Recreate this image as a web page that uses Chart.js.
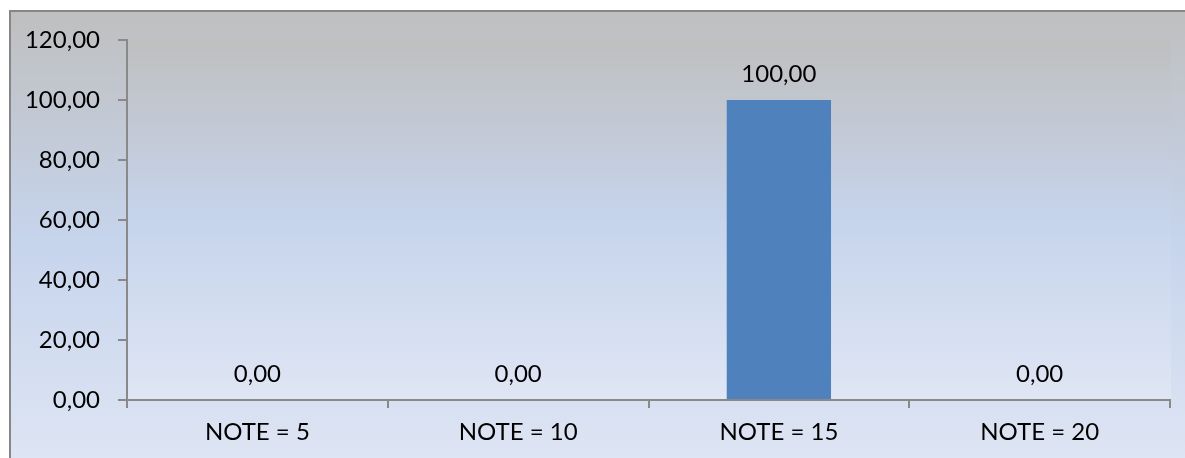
<!DOCTYPE html>
<html>
<head>
<meta charset="utf-8">
<script src="https://cdn.jsdelivr.net/npm/chart.js@4"></script>
<style>
html,body{margin:0;padding:0;background:#fff;}
#wrap{width:1185px;height:458px;position:relative;}
</style>
</head>
<body>
<div id="wrap"><canvas id="c" width="1185" height="458"></canvas></div>
<script>
const categories = ["NOTE = 5", "NOTE = 10", "NOTE = 15", "NOTE = 20"];
const values = [0, 0, 100, 0];
const yTicks = [0, 20, 40, 60, 80, 100, 120];

const FONT = 'Lato, "Open Sans", sans-serif';
const fmt = v => v.toFixed(2).replace('.', ',');

function makeGrad(ctx, y0, y1) {
  const g = ctx.createLinearGradient(0, y0, 0, y1);
  g.addColorStop(0, '#bfbfbf');
  g.addColorStop(0.5, '#c6d4ec');
  g.addColorStop(1, '#dfe6f4');
  return g;
}

const bgPlugin = {
  id: 'bg',
  beforeDraw(chart) {
    const ctx = chart.ctx, a = chart.chartArea;
    ctx.save();
    ctx.fillStyle = '#ffffff';
    ctx.fillRect(0, 0, chart.width, chart.height);
    ctx.fillStyle = makeGrad(ctx, 11, 470);
    ctx.fillRect(10, 11, chart.width, chart.height);
    ctx.strokeStyle = '#868686';
    ctx.lineWidth = 2;
    ctx.beginPath();
    ctx.moveTo(10, chart.height + 5);
    ctx.lineTo(10, 11);
    ctx.lineTo(chart.width + 5, 11);
    ctx.stroke();
    ctx.fillStyle = makeGrad(ctx, a.top, a.bottom);
    ctx.fillRect(a.left, a.top, a.right - a.left + 1, a.bottom - a.top);
    ctx.restore();
  }
};

const labelPlugin = {
  id: 'vals',
  afterDatasetsDraw(chart) {
    const ctx = chart.ctx;
    const meta = chart.getDatasetMeta(0);
    ctx.save();
    ctx.font = '24px ' + FONT;
    ctx.fillStyle = '#000';
    ctx.textAlign = 'center';
    ctx.textBaseline = 'alphabetic';
    meta.data.forEach((bar, i) => {
      ctx.fillText(fmt(values[i]), bar.x, bar.y - 18);
    });
    ctx.restore();
  }
};

new Chart(document.getElementById('c'), {
  type: 'bar',
  data: {
    labels: categories,
    datasets: [{
      data: values,
      backgroundColor: '#4f81bd',
      borderWidth: 0,
      categoryPercentage: 1,
      barPercentage: 0.4
    }]
  },
  options: {
    responsive: false,
    animation: false,
    devicePixelRatio: 1,
    layout: { padding: { top: 40, right: 15, bottom: 0, left: 0 } },
    plugins: { legend: { display: false }, tooltip: { enabled: false } },
    scales: {
      x: {
        afterFit(s) { s.height = 58; },
        border: { display: true, color: '#898989', width: 2 },
        grid: { offset: true, drawOnChartArea: false, tickLength: 8, color: '#898989', lineWidth: 2 },
        ticks: { color: '#000', font: { family: FONT, size: 24 }, padding: 10, maxRotation: 0 }
      },
      y: {
        min: 0, max: 120,
        afterFit(s) { s.width = 127; },
        afterBuildTicks(s) { s.ticks = yTicks.map(v => ({ value: v })); },
        border: { display: true, color: '#898989', width: 2 },
        grid: { drawOnChartArea: false, tickLength: 9, color: '#898989', lineWidth: 2 },
        ticks: { color: '#000', font: { family: FONT, size: 24 }, padding: 18, callback: v => fmt(v) }
      }
    }
  },
  plugins: [bgPlugin, labelPlugin]
});
</script>
</body>
</html>
